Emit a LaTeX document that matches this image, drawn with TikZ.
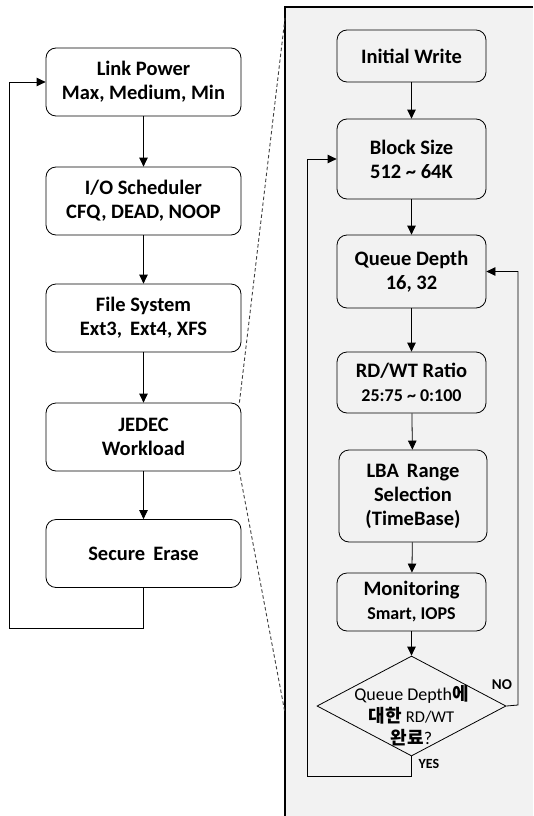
\documentclass[tikz,border=0pt]{standalone}
\usepackage{fontspec}
\setmainfont{Carlito}
\newfontfamily\krfont{Noto Sans CJK KR}
\usetikzlibrary{arrows.meta,shapes.geometric}
\definecolor{panelgray}{HTML}{F2F2F2}
\tikzset{
  stepbox/.style={draw, line width=0.8pt, rounded corners=10pt, align=center, inner sep=0pt,
    font=\bfseries\fontsize{20.5}{24}\selectfont},
  leftbox/.style={stepbox, fill=white, minimum width=195pt, minimum height=68pt},
  rightbox/.style={stepbox, minimum width=149pt},
  flow/.style={-{Triangle[length=9pt,width=8.5pt]}, line width=0.8pt},
  zoomline/.style={dash pattern=on 3.5pt off 2.5pt, line width=0.9pt, black!75},
}
\newcommand{\subline}[1]{{\fontsize{18}{21}\selectfont #1}}
\begin{document}
\begin{tikzpicture}[x=1pt, y=-1pt]
\useasboundingbox (0,0) rectangle (533,816);

% ---- zoomed panel
\fill[panelgray] (285,7) rectangle (533,816);
\draw[line width=2.2pt] (533,7) -- (285,7) -- (285,816);

% ---- left flow
\node[leftbox] (power) at (143.5,82) {Link Power\\Max, Medium, Min};
\node[leftbox] (sched) at (143.5,201) {I/O Scheduler\\CFQ, DEAD, NOOP};
\node[leftbox] (fs) at (143.5,318) {File System\\Ext3,\, Ext4, XFS};
\node[leftbox] (jedec) at (143.5,437) {JEDEC\\Workload};
\node[leftbox] (erase) at (143.5,553.5) {Secure\, Erase};

\draw[flow] (power) -- (sched);
\draw[flow] (sched) -- (fs);
\draw[flow] (fs) -- (jedec);
\draw[flow] (jedec) -- (erase);
\coordinate (loopa) at (9,628);
\draw[flow] (erase.south) |- (loopa) |- (power.west);

% ---- dashed zoom lines
\coordinate (ztop) at (285,18);
\coordinate (zbot) at (285,713);
\draw[zoomline] (jedec.north east) ++(-2,0) -- (ztop);
\draw[zoomline] (jedec.south east) ++(-2,0) -- (zbot);

% ---- right flow
\node[rightbox, minimum height=52pt] (init) at (411.5,56) {Initial Write};
\node[rightbox, minimum height=80pt] (bsize) at (411.5,159) {Block Size\\512 \textasciitilde{} 64K};
\node[rightbox, minimum height=73pt] (qd) at (411.5,271.5) {Queue Depth\\16, 32};
\node[rightbox, minimum height=61pt] (ratio) at (411.5,382.5) {RD/WT Ratio\\\subline{25:75 \textasciitilde{} 0:100}};
\node[rightbox, minimum height=92pt, minimum width=148pt] (lba) at (413,496) {LBA\, Range\\Selection\\(TimeBase)};
\node[rightbox, minimum height=58pt] (mon) at (411.5,602) {Monitoring\\\subline{Smart, IOPS}};
\node[diamond, draw, line width=0.8pt, minimum width=189pt, minimum height=100pt, inner sep=0pt] (done) at (411.5,706) {};
\node[align=center, font=\fontsize{18}{22}\selectfont] (donetxt) at (411.5,716)
  {Queue Depth{\krfont\bfseries 에}\\{\krfont\bfseries 대한} {\fontsize{16.5}{22}\selectfont RD/WT}\\{\krfont\bfseries 완료}?};

\draw[flow] (init) -- (bsize);
\draw[flow] (bsize) -- (qd);
\draw[flow] (qd) -- (ratio);
\draw[flow] (ratio) -- (lba);
\draw[flow] (lba) -- (mon);
\draw[flow] (mon) -- (done);

\coordinate (noturn) at (518,705);
\coordinate (yesturn) at (307,776);
\draw[flow] (done.east) -- (noturn) |- (qd.east);
\draw[flow] (done.south) |- (yesturn) |- (bsize.west);
\node[font=\bfseries\fontsize{15}{17}\selectfont] (nolbl) at (502,685) {NO};
\node[font=\bfseries\fontsize{14}{16}\selectfont] (yeslbl) at (429,764) {YES};
\end{tikzpicture}
\end{document}
